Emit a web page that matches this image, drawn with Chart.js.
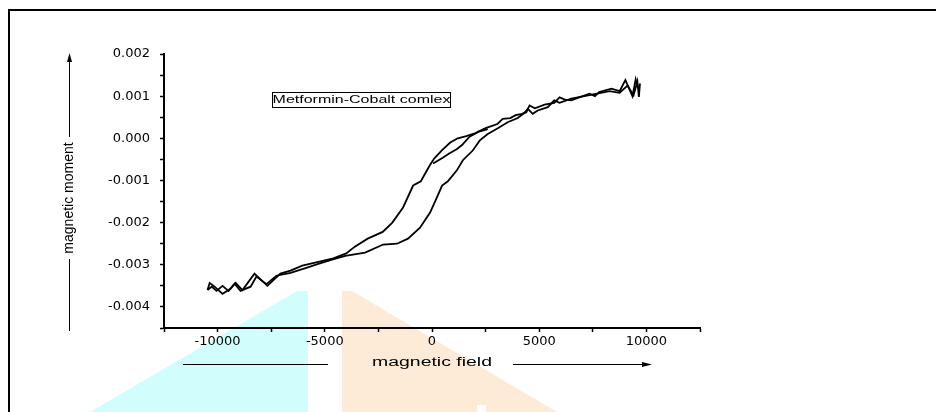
<!DOCTYPE html>
<html>
<head>
<meta charset="utf-8">
<script src="https://cdn.jsdelivr.net/npm/chart.js@4.4.0/dist/chart.umd.min.js"></script>
<style>
  html, body { margin: 0; padding: 0; background: #fff; overflow: hidden; }
  #wrap { position: relative; width: 936px; height: 412px; overflow: hidden; }
  .wm { position: absolute; left: 0; top: 0; width: 936px; height: 412px; }
  #cyan { background: #d2fdfd; clip-path: polygon(90px 412px, 297px 291px, 308px 291px, 308px 412px); }
  #peach { background: #fdebd8; clip-path: polygon(342px 291px, 352px 291px, 557px 412px, 342px 412px); }
  #notch { position: absolute; left: 477px; top: 405px; width: 9px; height: 7px; background: #fff; }
  #frame { position: absolute; left: 8px; top: 9px; width: 940px; height: 420px; border-top: 2px solid #000; border-left: 2px solid #000; }
  #box { position: absolute; left: 0; top: 0; width: 936px; height: 412px; }
</style>
</head>
<body>
<div id="wrap">
  <div class="wm" id="cyan"></div>
  <div class="wm" id="peach"></div>
  <div id="notch"></div>
  <div id="frame"></div>
  <div id="box"><canvas id="loopChart"></canvas></div>
</div>
<script>
// descending branch (high field -> low field)
const fieldDown = [9600, 9500, 9350, 9020, 8750, 8370, 7800, 7600, 7350, 6800, 6500, 6200, 5950, 5700, 5250,
  4800, 4550, 4400, 4200, 3900, 3650, 3300, 3050, 2500, 2000, 1600, 1200, 850, 470, 100, -100, -280, -520, -880,
  -1350, -1850, -2300, -3000, -3600, -4000, -4600, -5300, -6050, -6600, -7070, -7680, -8280, -8840, -9160, -9400,
  -9770, -10140, -10370, -10470];
const momentDown = [0.00120, 0.00140, 0.00100, 0.00138, 0.00112, 0.00118, 0.00110, 0.00100, 0.00106, 0.00096,
  0.00090, 0.00092, 0.00097, 0.00084, 0.00080, 0.00071, 0.00078, 0.00062, 0.00058, 0.00055, 0.00048, 0.00046,
  0.00034, 0.00024, 0.00012, 0.00005, 0.00000, -0.00010, -0.00028, -0.00048, -0.00064, -0.00080, -0.00102,
  -0.00112, -0.00164, -0.00200, -0.00222, -0.00238, -0.00257, -0.00273, -0.00285, -0.00293, -0.00302, -0.00314,
  -0.00321, -0.00350, -0.00321, -0.00360, -0.00343, -0.00357, -0.00369, -0.00352, -0.00343, -0.00360];

// ascending branch (low field -> high field)
const fieldUp = [-10470, -10280, -10050, -9770, -9490, -9210, -8930, -8460, -8190, -7720, -7260, -6600, -5900,
  -5300, -4740, -4050, -3120, -2280, -1630, -1120, -560, -90, 230, 470, 740, 1160, 1440, 1900, 2230, 2600, 3070,
  3530, 4000, 4300, 4470, 4700, 4930, 5400, 5700, 5950, 6500, 7100, 7700, 8280, 8750, 9120, 9400, 9580, 9650, 9700];
const momentUp = [-0.00360, -0.00352, -0.00362, -0.00350, -0.00362, -0.00345, -0.00362, -0.00352, -0.00328,
  -0.00346, -0.00326, -0.00319, -0.00308, -0.00298, -0.00289, -0.00279, -0.00271, -0.00252, -0.00250, -0.00238,
  -0.00212, -0.00176, -0.00140, -0.00112, -0.00102, -0.00076, -0.00052, -0.00029, -0.00005, 0.00010, 0.00024,
  0.00038, 0.00048, 0.00060, 0.00070, 0.00058, 0.00066, 0.00074, 0.00090, 0.00084, 0.00094, 0.00100, 0.00106,
  0.00112, 0.00108, 0.00125, 0.00102, 0.00135, 0.00098, 0.00130];

// initial curve from zero field
const fieldInit = [50, 500, 800, 1150, 1400, 1750, 2200, 2600];
const momentInit = [-0.00060, -0.00046, -0.00036, -0.00026, -0.00016, 0.00004, 0.00016, 0.00022];

const xTitle = 'magnetic field';
const yTitle = 'magnetic moment';
const sampleLabel = 'Metformin-Cobalt comlex';
const labelField = -7450;
const labelMoment = 0.00110;

const toPoints = (xs, ys) => xs.map((v, i) => ({ x: v, y: ys[i] }));

function hLine(ctx, x1, x2, y) {
  ctx.beginPath(); ctx.moveTo(x1, y); ctx.lineTo(x2, y); ctx.stroke();
}
function vLine(ctx, x, y1, y2) {
  ctx.beginPath(); ctx.moveTo(x, y1); ctx.lineTo(x, y2); ctx.stroke();
}

const decor = {
  id: 'decor',
  afterDraw(chart) {
    const { ctx, chartArea: a, scales: { x, y } } = chart;
    ctx.save();
    ctx.strokeStyle = '#000';
    ctx.fillStyle = '#000';
    ctx.lineWidth = 1;

    // x title with arrow
    const cx = (a.left + a.right) / 2, ty = a.bottom + 35;
    ctx.save();
    ctx.translate(cx, ty);
    ctx.scale(1.62, 1);
    ctx.font = '12px "Liberation Sans", Arial, sans-serif';
    ctx.textAlign = 'center';
    ctx.textBaseline = 'middle';
    ctx.fillText(xTitle, 0, 0);
    ctx.restore();
    hLine(ctx, a.left + 19, cx - 104, ty + 1.5);
    hLine(ctx, cx + 81, cx + 212, ty + 1.5);
    ctx.beginPath();
    ctx.moveTo(cx + 220, ty + 1.5);
    ctx.lineTo(cx + 210, ty - 1);
    ctx.lineTo(cx + 210, ty + 4);
    ctx.closePath(); ctx.fill();

    // y title with arrow
    const ax = 69.5, ym = a.top + 144;
    ctx.save();
    ctx.translate(ax, ym);
    ctx.rotate(-Math.PI / 2);
    ctx.font = '14px "Liberation Sans", Arial, sans-serif';
    ctx.textAlign = 'center';
    ctx.textBaseline = 'middle';
    ctx.fillText(yTitle, 0, 0);
    ctx.restore();
    vLine(ctx, ax, ym - 61, a.top + 6);
    vLine(ctx, ax, ym + 61, a.bottom + 3);
    ctx.beginPath();
    ctx.moveTo(ax, a.top - 1);
    ctx.lineTo(ax - 2.5, a.top + 8);
    ctx.lineTo(ax + 2.5, a.top + 8);
    ctx.closePath(); ctx.fill();

    // sample label box
    const bx = Math.round(x.getPixelForValue(labelField)) + 0.5;
    const by = Math.round(y.getPixelForValue(labelMoment)) + 0.5;
    ctx.strokeRect(bx, by, 178, 15);
    ctx.save();
    ctx.translate(bx + 89, by + 8);
    ctx.scale(1.6, 1);
    ctx.font = '10px "Liberation Sans", Arial, sans-serif';
    ctx.textAlign = 'center';
    ctx.textBaseline = 'middle';
    ctx.fillText(sampleLabel, 0, 0);
    ctx.restore();
    ctx.restore();
  }
};

const lineStyle = { showLine: true, borderColor: '#000', borderWidth: 1.8, pointRadius: 0, tension: 0, fill: false };
const tickFont = { family: '"DejaVu Sans", sans-serif', size: 13 };

new Chart(document.getElementById('loopChart'), {
  type: 'scatter',
  data: {
    datasets: [
      { label: 'down', data: toPoints(fieldDown, momentDown), ...lineStyle },
      { label: 'up', data: toPoints(fieldUp, momentUp), ...lineStyle },
      { label: 'initial', data: toPoints(fieldInit, momentInit), ...lineStyle }
    ]
  },
  options: {
    responsive: true,
    maintainAspectRatio: false,
    animation: false,
    layout: { padding: { top: 54, right: 236, bottom: 54, left: 0 } },
    plugins: { legend: { display: false }, tooltip: { enabled: false } },
    scales: {
      x: {
        type: 'linear',
        min: -12500,
        max: 12500,
        afterFit: s => { s.height = 30; },
        ticks: {
          stepSize: 2500, maxTicksLimit: 30, autoSkip: false, maxRotation: 0,
          padding: 2, color: '#000', font: tickFont,
          callback: v => (v % 5000 === 0 ? String(v) : '')
        },
        grid: { drawOnChartArea: false, drawTicks: true, tickLength: 4, tickColor: '#000', tickWidth: 1.5 },
        border: { display: true, color: '#000', width: 2 }
      },
      y: {
        min: -0.0045,
        max: 0.002,
        afterFit: s => { s.width = 164; },
        ticks: {
          stepSize: 0.0005, maxTicksLimit: 30, autoSkip: false,
          padding: 10, color: '#000', font: tickFont,
          callback: v => (Math.round(v * 1e4) % 10 === 0 ? v.toFixed(3) : '')
        },
        grid: { drawOnChartArea: false, drawTicks: true, tickLength: 4, tickColor: '#000', tickWidth: 1.5 },
        border: { display: true, color: '#000', width: 2 }
      }
    }
  },
  plugins: [decor]
});
</script>
</body>
</html>
